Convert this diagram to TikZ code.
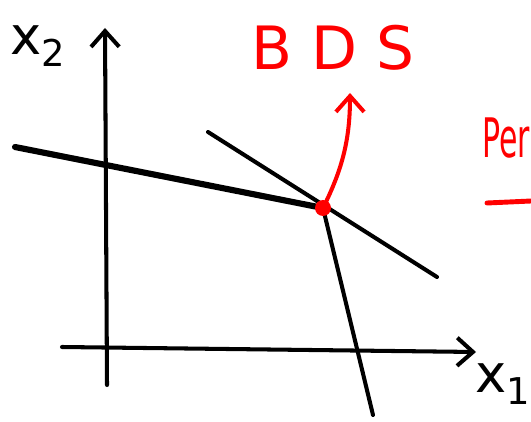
\documentclass[tikz,border=0pt]{standalone}
\usepackage{fontspec}
\setsansfont{DejaVu Sans}
\usetikzlibrary{arrows.meta}
\tikzset{
  pen/.style={line width=2.3pt, line cap=round, line join=round},
  redpen/.style={pen, red},
  barb/.style={-{Straight Barb[length=9pt,width=16pt,line width=2.3pt]}},
}
\begin{document}
\begin{tikzpicture}[x=0.02cm, y=-0.02cm]
    \useasboundingbox (0,0) rectangle (531,422);
    \clip (0,0) rectangle (531,422);
    % axes
    \coordinate (o) at (106,347);
    \draw[pen,barb] (107,385) -- (105,28);
    \draw[pen,barb] (62,347) -- (476,352);
    \node[font=\sffamily\fontsize{30}{30}\selectfont] (xtwo) at (38,46) {x\textsubscript{2}};
    \node[font=\sffamily\fontsize{30}{30}\selectfont] (xone) at (503,384) {x\textsubscript{1}};
    % lines through the optimum
    \coordinate (opt) at (323,208);
    \draw[pen, line width=3.5pt] (15,147) -- (opt);
    \draw[pen] (208,132) -- (437,277);
    \draw[pen] (opt) -- (373,415);
    % optimum and BDS arrow
    \fill[red] (opt) circle[radius=8];
    \draw[redpen,barb] (opt) .. controls (342,170) and (350,140) .. (350,93);
    \node[red, font=\sffamily\fontsize{34}{34}\selectfont] (bds) at (333,48) {B D S};
    \node[red, anchor=base west, inner sep=0pt, font=\sffamily\fontsize{31}{31}\selectfont] (per) at (482,158)
        {\scalebox{0.55}[1]{Per}};
    \draw[redpen, line width=2.8pt] (487,203) -- (531,201);
\end{tikzpicture}
\end{document}
